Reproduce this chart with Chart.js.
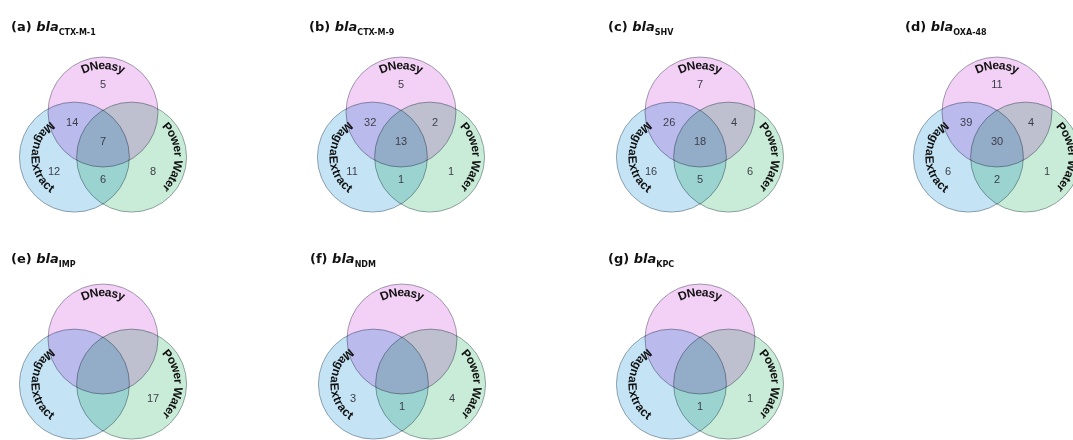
<!DOCTYPE html>
<html>
<head>
<meta charset="utf-8">
<script src="https://cdn.jsdelivr.net/npm/chart.js@4.4.1/dist/chart.umd.min.js"></script>
<style>
  html, body { margin: 0; padding: 0; background: #fff; }
  body { width: 1073px; height: 440px; position: relative; overflow: hidden; font-family: "Liberation Sans", Arial, sans-serif; }
  .panel { position: absolute; width: 298px; height: 220px; }
  .title { position: absolute; font-family: "DejaVu Sans", sans-serif; font-weight: bold; font-size: 13px; line-height: 15px; color: #111; white-space: nowrap; }
  .title sub { font-size: 8px; vertical-align: -4px; line-height: 0; }
</style>
</head>
<body>
<script>
// sets and regions
const setNames = ['DNeasy', 'MagnaExtract', 'Power Water'];
const regionNames = ['DNeasy only', 'DNeasy & MagnaExtract', 'DNeasy & Power Water', 'all three',
                     'MagnaExtract only', 'MagnaExtract & Power Water', 'Power Water only'];
const panelLetters = ['a', 'b', 'c', 'd', 'e', 'f', 'g'];
const genes = ['CTX-M-1', 'CTX-M-9', 'SHV', 'OXA-48', 'IMP', 'NDM', 'KPC'];

// counts per region (same order as regionNames), null = nothing printed
const countsA = [5, 14, null, 7, 12, 6, 8];
const countsB = [5, 32, 2, 13, 11, 1, 1];
const countsC = [7, 26, 4, 18, 16, 5, 6];
const countsD = [11, 39, 4, 30, 6, 2, 1];
const countsE = [null, null, null, null, null, null, 17];
const countsF = [null, null, null, null, 3, 1, 4];
const countsG = [null, null, null, null, null, 1, 1];
const panelCounts = [countsA, countsB, countsC, countsD, countsE, countsF, countsG];

// venn layout, in circle-radius units (y up)
const UNIT = 55;
const circleCenters = [[0, 0], [-0.52, -0.82], [0.52, -0.82]];
const circleFills = ['#f3d0f5', '#c4e4f6', '#c8ecd8'];
const regionAnchors = [[0, 0.49], [-0.56, -0.2], [0.62, -0.2], [0, -0.55], [-0.89, -1.09], [0, -1.24], [0.91, -1.09]];
const labelRadius = [0.84, 0.72, 0.84];
const labelAngle = [-Math.PI / 2, Math.PI, 0];
const labelDir = [1, -1, 1];

// where each panel's top circle centre sits on the page
const panelPos = [[103, 112], [401, 112], [700, 112], [997, 112], [103, 339], [402, 339], [700, 339]];

const multiply = {
  id: 'multiply',
  beforeDatasetsDraw(chart) { chart.ctx.save(); chart.ctx.globalCompositeOperation = 'multiply'; },
  afterDatasetsDraw(chart) { chart.ctx.restore(); }
};

function arcText(ctx, text, cx, cy, R, mid, dir) {
  const chars = [...text];
  const widths = chars.map(ch => ctx.measureText(ch).width);
  const total = widths.reduce((a, b) => a + b, 0);
  let a = mid - dir * total / 2 / R;
  chars.forEach((ch, i) => {
    const th = a + dir * widths[i] / 2 / R;
    ctx.save();
    ctx.translate(cx + R * Math.cos(th), cy + R * Math.sin(th));
    ctx.rotate(th + dir * Math.PI / 2);
    ctx.fillText(ch, 0, 0);
    ctx.restore();
    a += dir * widths[i] / R;
  });
}

const vennLabels = {
  id: 'vennLabels',
  afterDatasetsDraw(chart, args, opts) {
    const { ctx, scales: { x, y } } = chart;
    const unit = x.getPixelForValue(1) - x.getPixelForValue(0);
    ctx.save();
    ctx.textAlign = 'center';
    ctx.textBaseline = 'middle';
    ctx.fillStyle = '#3d3d48';
    ctx.font = '11px "Liberation Sans", Arial, sans-serif';
    opts.counts.forEach((n, i) => {
      if (n == null) return;
      ctx.fillText(String(n), x.getPixelForValue(regionAnchors[i][0]), y.getPixelForValue(regionAnchors[i][1]));
    });
    ctx.fillStyle = '#111';
    ctx.font = 'bold 12px "Liberation Sans", Arial, sans-serif';
    setNames.forEach((name, k) => {
      arcText(ctx, name, x.getPixelForValue(circleCenters[k][0]), y.getPixelForValue(circleCenters[k][1]),
              labelRadius[k] * unit, labelAngle[k], labelDir[k]);
    });
    ctx.restore();
  }
};

// one circle radius (1 unit) in pixels, taken from the x axis range
function unitRadius(c) {
  const sx = c.chart.options.scales.x;
  return c.chart.width / (sx.max - sx.min);
}

panelCounts.forEach((counts, p) => {
  const [cx, cy] = panelPos[p];
  const top = p < 4 ? 0 : 227;
  const box = document.createElement('div');
  box.className = 'panel';
  box.style.left = (cx - 149) + 'px';
  box.style.top = top + 'px';
  const canvas = document.createElement('canvas');
  canvas.width = 298;
  canvas.height = 220;
  box.appendChild(canvas);
  document.body.appendChild(box);

  const title = document.createElement('div');
  title.className = 'title';
  title.style.left = (cx - 92) + 'px';
  title.style.top = (p < 4 ? 19 : 251) + 'px';
  title.innerHTML = '(' + panelLetters[p] + ') <i>bla</i><sub>' + genes[p] + '</sub>';
  document.body.appendChild(title);

  const yTop = cy - top;
  const chart = new Chart(canvas, {
    type: 'bubble',
    data: {
      datasets: setNames.map((name, k) => ({
        label: name,
        data: [{ x: circleCenters[k][0], y: circleCenters[k][1] }],
        backgroundColor: circleFills[k],
        borderColor: 'rgba(105,115,125,0.6)',
        borderWidth: 1,
        hoverRadius: 0,
        radius: unitRadius
      }))
    },
    options: {
      responsive: false,
      animation: false,
      devicePixelRatio: 1,
      events: [],
      clip: false,
      layout: { padding: 0, autoPadding: false },
      scales: {
        x: { type: 'linear', display: false, min: -149 / UNIT, max: 149 / UNIT },
        y: { type: 'linear', display: false, min: -(220 - yTop) / UNIT, max: yTop / UNIT }
      },
      plugins: {
        legend: { display: false },
        tooltip: { enabled: false },
        vennLabels: { counts: counts }
      }
    },
    plugins: [multiply, vennLabels]
  });
  chart.update();
});
</script>
</body>
</html>
